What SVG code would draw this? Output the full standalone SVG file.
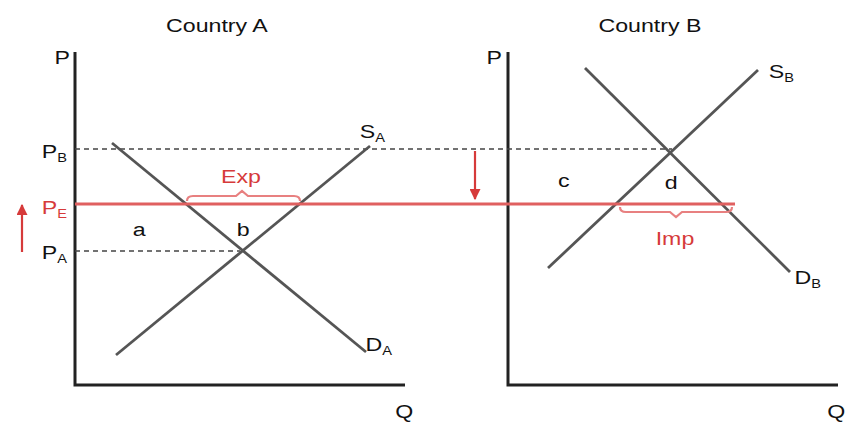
<svg xmlns="http://www.w3.org/2000/svg" width="847" height="428" viewBox="0 0 847 428">
<defs>
<style>
text{font-family:"Liberation Sans",Arial,sans-serif;font-size:19px;fill:#111;transform-box:fill-box;transform-origin:center;transform:scaleX(1.22)}
.sub{font-size:12px}
.red{fill:#d63a3a}
.axis{stroke:#222;stroke-width:3;fill:none}
.curve{stroke:#555;stroke-width:2.8;fill:none}
.dash{stroke:#444;stroke-width:1.6;stroke-dasharray:5 4;fill:none}
.rline{stroke:#e06060;stroke-width:2.8;fill:none}
.brace{stroke:#e88080;stroke-width:2.2;fill:none}
.arr{stroke:#d63a3a;stroke-width:2.2;fill:none}
</style>
<marker id="ah" viewBox="0 0 10 10" refX="9" refY="5" markerWidth="5" markerHeight="5" orient="auto"><path d="M0,0 L10,5 L0,10 z" fill="#d63a3a"/></marker>
</defs>
<g id="titles">
<text x="217" y="32" text-anchor="middle">Country A</text>
<text x="650" y="32" text-anchor="middle">Country B</text>
</g>
<g id="axisA">
<path class="axis" d="M75,52 V385 H405"/>
<text x="56" y="64">P</text>
<text x="397" y="418">Q</text>
</g>
<g id="axisB">
<path class="axis" d="M508,52 V385 H838"/>
<text x="488" y="64">P</text>
<text x="829" y="418">Q</text>
</g>
<g id="connectors">
<path class="dash" d="M75,149 H672"/>
<path class="dash" d="M75,251 H240"/>
<path class="curve" d="M112,143 L366,352"/>
<path class="curve" d="M116,355 L370,146"/>
<path class="curve" d="M585,68 L790,272"/>
<path class="curve" d="M548,268 L758,70"/>
<path class="rline" d="M75,204 H735"/>
<path class="brace" d="M187,201 Q187,196 193,196 H236 L242,191 L248,196 H294 Q300,196 300,201"/>
<path class="brace" d="M620,207 Q620,212 626,212 H670 L676,217 L682,212 H726 Q732,212 732,207"/>
<path class="arr" d="M475,151 V199" marker-end="url(#ah)"/>
<path class="arr" d="M22,252 V205" marker-end="url(#ah)"/>
</g>
<g id="priceLabels">
<text x="44" y="158">P<tspan class="sub" dy="4">B</tspan></text>
<text x="44" y="214" class="red">P<tspan class="sub" dy="4">E</tspan></text>
<text x="44" y="259">P<tspan class="sub" dy="4">A</tspan></text>
</g>
<g id="curveLabels">
<text x="362" y="138">S<tspan class="sub" dy="4">A</tspan></text>
<text x="368" y="351">D<tspan class="sub" dy="4">A</tspan></text>
<text x="771" y="78">S<tspan class="sub" dy="4">B</tspan></text>
<text x="797" y="284">D<tspan class="sub" dy="4">B</tspan></text>
</g>
<g id="areaLabels">
<text x="134" y="236">a</text>
<text x="238" y="236">b</text>
<text x="559" y="187">c</text>
<text x="666" y="189">d</text>
<text x="241" y="183" text-anchor="middle" class="red">Exp</text>
<text x="675" y="245" text-anchor="middle" class="red">Imp</text>
</g>
</svg>
